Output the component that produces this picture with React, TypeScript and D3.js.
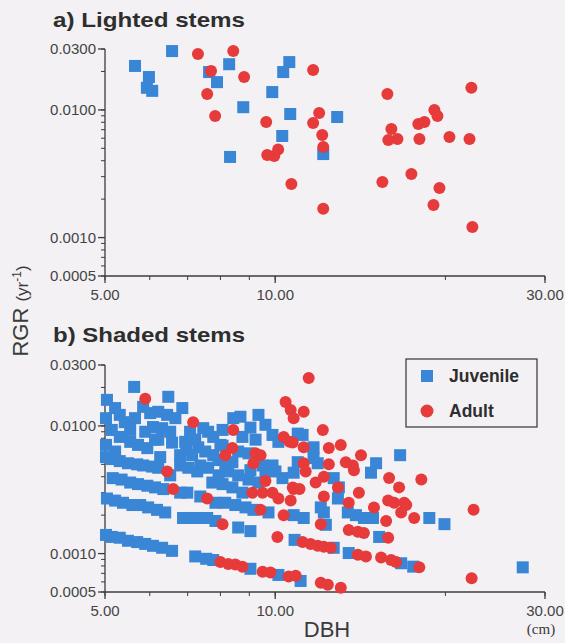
import React from "react";
import * as d3 from "d3";

// ---- data: DBH (cm), RGR (yr^-1) ----
const lightedJuvenile: [number, number][] = [
  [6.57, 0.0289], [5.65, 0.0221], [5.98, 0.0181], [5.93, 0.0149], [6.06, 0.0141],
  [8.29, 0.0228], [7.64, 0.0198], [7.89, 0.0165], [8.78, 0.0105], [9.88, 0.0138],
  [10.33, 0.0198], [10.59, 0.0237], [10.63, 0.00929], [10.29, 0.00625], [8.32, 0.00428],
  [12.87, 0.0088], [12.16, 0.00451],
];

const lightedAdult: [number, number][] = [
  [7.3, 0.0274], [8.43, 0.0289], [7.7, 0.0202], [8.81, 0.0181], [7.58, 0.0133],
  [7.83, 0.00896], [9.64, 0.00804], [10.12, 0.0049], [9.68, 0.00443], [9.96, 0.00435],
  [10.68, 0.00263], [11.67, 0.0205], [15.79, 0.0133], [22.23, 0.0149], [11.96, 0.00946],
  [11.67, 0.0079], [12.11, 0.00636], [12.16, 0.00513], [19.12, 0.00998], [19.36, 0.00896],
  [17.91, 0.00776], [18.36, 0.00804], [16.05, 0.00709], [15.85, 0.00582], [16.45, 0.00592],
  [17.99, 0.00592], [20.33, 0.00614], [22.06, 0.00592], [12.16, 0.00168], [15.47, 0.00273],
  [17.41, 0.00315], [19.52, 0.00245], [19.05, 0.0018], [22.32, 0.00121],
];

const shadedJuvenile: [number, number][] = [
  [5.63, 0.0202], [5.84, 0.0141], [6.47, 0.0169], [5.04, 0.016], [5.21, 0.0138],
  [5.31, 0.0122], [5.42, 0.0107], [6.85, 0.0138], [5.02, 0.0115], [6.01, 0.0126],
  [6.21, 0.0129], [6.44, 0.0122], [6.66, 0.0115], [6.08, 0.0098], [6.31, 0.0096],
  [6.52, 0.009], [7.07, 0.009], [7.22, 0.0078], [5.02, 0.0071], [5.54, 0.0075],
  [5.72, 0.0071], [5.94, 0.0067], [6.57, 0.0074], [8.43, 0.0115], [8.68, 0.0118],
  [9.34, 0.0122], [7.46, 0.0096], [7.61, 0.009], [7.77, 0.0082], [8.75, 0.0082],
  [9.89, 0.0085], [10.13, 0.0075], [7.31, 0.0068], [7.52, 0.0063], [7.77, 0.0059],
  [7.94, 0.0054], [8.6, 0.0063], [8.97, 0.0061], [9.5, 0.0049], [9.89, 0.0049],
  [7.37, 0.0049], [7.61, 0.0047], [8.26, 0.0044], [8.6, 0.0041], [8.97, 0.0038],
  [9.34, 0.0036], [7.74, 0.0036], [8.07, 0.0035], [8.4, 0.0033], [8.75, 0.003],
  [10.01, 0.0044], [10.3, 0.0039], [8.07, 0.007], [8.4, 0.0052], [6.96, 0.0065],
  [7.13, 0.0059], [5.54, 0.0093], [6.13, 0.0078],
  [5.14, 0.0093], [5.31, 0.0082], [5.21, 0.0063], [5.89, 0.009], [5.65, 0.0115],
  [6.26, 0.0057], [6.79, 0.0059], [6.93, 0.0075], [6.21, 0.0078], [8.0, 0.0071],
  [8.16, 0.0049], [7.94, 0.0041], [9.04, 0.0045], [9.61, 0.0044], [9.23, 0.0078],
  [9.61, 0.0102], [9.04, 0.0097], [8.07, 0.0093],
  [5.02, 0.0057], [5.14, 0.0055], [5.31, 0.0053], [5.49, 0.0051], [5.7, 0.005],
  [5.84, 0.0049], [6.06, 0.0048], [6.21, 0.0047], [6.79, 0.0049], [7.02, 0.0047],
  [7.28, 0.0044], [6.52, 0.0041],
  [5.16, 0.0039], [5.35, 0.0038], [5.54, 0.0036], [5.72, 0.0035], [5.94, 0.0034],
  [6.13, 0.0033], [6.34, 0.0032], [6.79, 0.003], [6.99, 0.003], [7.37, 0.0028],
  [7.84, 0.0025], [8.16, 0.0025], [8.5, 0.0024], [8.86, 0.0023], [9.15, 0.0022],
  [9.73, 0.0021], [10.78, 0.002],
  [5.04, 0.0027], [5.21, 0.0026], [5.38, 0.0025], [5.59, 0.0024], [5.77, 0.0024],
  [5.96, 0.0023], [6.18, 0.0022], [6.39, 0.0021], [6.87, 0.0019], [7.07, 0.0019],
  [7.31, 0.0019], [7.58, 0.0019], [7.84, 0.0018], [8.6, 0.0016], [9.04, 0.0015],
  [10.82, 0.00128],
  [5.02, 0.0014], [5.14, 0.00135], [5.31, 0.00133], [5.49, 0.00126], [5.7, 0.00123],
  [5.89, 0.00119], [6.08, 0.00115], [6.31, 0.00111], [6.57, 0.00105], [7.22, 0.00095],
  [7.55, 0.00091], [7.77, 0.00089], [9.04, 0.00076], [10.13, 0.00068], [11.09, 0.00061],
  [10.96, 0.0087], [11.18, 0.0085], [11.69, 0.0068], [10.96, 0.0052], [11.69, 0.0056],
  [11.89, 0.0051], [15.08, 0.0051], [14.77, 0.0043], [10.78, 0.0043], [12.69, 0.0039],
  [12.96, 0.0033], [12.04, 0.0023], [12.19, 0.0021], [12.91, 0.0027], [13.44, 0.0021],
  [13.89, 0.002], [14.35, 0.0019], [14.89, 0.0019], [11.23, 0.0019], [12.29, 0.00168],
  [15.27, 0.00135], [13.49, 0.00101], [12.69, 0.00111], [16.63, 0.0059], [18.73, 0.0019],
  [19.92, 0.0017], [16.7, 0.00084], [17.54, 0.00079], [27.4, 0.00078],
];

const shadedAdult: [number, number][] = [
  [5.89, 0.0163], [7.16, 0.0107], [6.44, 0.0044], [6.6, 0.0032], [8.43, 0.0093],
  [8.4, 0.0067], [8.16, 0.0059], [9.23, 0.0061], [9.42, 0.0059], [9.15, 0.0051],
  [9.61, 0.0037], [10.43, 0.0154], [10.65, 0.0133], [10.78, 0.0115], [10.35, 0.0082],
  [10.6, 0.0075], [9.11, 0.003], [9.5, 0.003], [9.89, 0.003], [10.13, 0.0027],
  [10.65, 0.0026], [10.74, 0.0033], [7.58, 0.0027], [9.42, 0.0022], [10.35, 0.002],
  [8.07, 0.0017], [10.09, 0.00135], [8.0, 0.00086], [8.26, 0.00083], [8.5, 0.00082],
  [8.75, 0.00079], [9.5, 0.00072], [9.81, 0.00071], [10.56, 0.00066], [11.46, 0.0237],
  [11.23, 0.0129], [12.14, 0.0093], [10.74, 0.0074], [11.23, 0.0068], [12.44, 0.0067],
  [13.06, 0.0071], [11.23, 0.0051], [11.32, 0.0044], [12.44, 0.005], [13.33, 0.0052],
  [13.72, 0.0049], [13.78, 0.0045], [14.18, 0.0059], [15.9, 0.0039], [11.79, 0.0036],
  [12.19, 0.004], [12.91, 0.0033], [10.78, 0.0032], [11.04, 0.0032], [12.19, 0.0028],
  [13.49, 0.0025], [14.06, 0.003], [14.95, 0.0023], [15.84, 0.0026], [12.04, 0.0017],
  [13.49, 0.00153], [14.0, 0.00148], [14.35, 0.00145], [15.84, 0.00133], [11.18, 0.00123],
  [11.55, 0.00119], [11.89, 0.00115], [12.19, 0.00113], [12.54, 0.00111], [14.0, 0.00098],
  [14.47, 0.00095], [15.39, 0.00093], [16.03, 0.00089], [10.87, 0.00067], [12.04, 0.00059],
  [12.39, 0.00057], [13.06, 0.00054], [16.56, 0.0033], [18.13, 0.0038], [16.23, 0.0025],
  [16.91, 0.0025], [17.05, 0.0024], [16.7, 0.0021], [17.61, 0.0019], [15.71, 0.0018],
  [16.36, 0.00086], [17.98, 0.00078], [22.25, 0.00064], [22.43, 0.0022],
];

const xTickValues = [5, 10, 30];
const xTickLabels = ["5.00", "10.00", "30.00"];
const yTickValues = [0.03, 0.01, 0.001, 0.0005];
const yTickLabels = ["0.0300", "0.0100", "0.0010", "0.0005"];
const seriesNames = ["Juvenile", "Adult"];

const BLUE = "#3a86d6";
const RED = "#e63a3b";
const AXIS = "#3d3d3d";
const TEXT = "#444";
const SANS = "'Liberation Sans', Arial, Helvetica, sans-serif";

const xScale = d3.scaleLog().domain([5, 30]).range([105, 545]);

interface PanelProps {
  title: string;
  top: number;
  bottom: number;
  titleY: number;
  xLabelY: number;
  juvenile: [number, number][];
  adult: [number, number][];
}

function Panel({ title, top, bottom, titleY, xLabelY, juvenile, adult }: PanelProps) {
  const y = d3.scaleLog().domain([0.0005, 0.03]).range([bottom, top]);
  const x0 = xScale.range()[0];
  const x1 = xScale.range()[1];
  const yMinor = y.ticks();
  const xMinor = xScale.ticks();
  const half = 6;
  return (
    <g>
      <text x={53} y={titleY} fontFamily={SANS} fontWeight="bold" fontSize={21}
        fill="#2e2e2e" textLength={192} lengthAdjust="spacingAndGlyphs">{title}</text>
      {/* axes */}
      <line x1={x0} x2={x0} y1={top} y2={bottom} stroke={AXIS} strokeWidth={1.3} />
      <line x1={x0} x2={x1} y1={bottom} y2={bottom} stroke={AXIS} strokeWidth={1.3} />
      {yMinor.map((v, i) => (
        <line key={"ym" + i} x1={x0 - 4} x2={x0} y1={y(v)} y2={y(v)} stroke={AXIS} strokeWidth={1} />
      ))}
      {yTickValues.map((v, i) => (
        <g key={"yt" + i}>
          <line x1={x0 - 7} x2={x0} y1={y(v)} y2={y(v)} stroke={AXIS} strokeWidth={1.3} />
          <text x={x0 - 9} y={y(v)} dy="0.35em" textAnchor="end" fontFamily={SANS}
            fontSize={15} fill={TEXT}>{yTickLabels[i]}</text>
        </g>
      ))}
      {xMinor.map((v, i) => (
        <line key={"xm" + i} x1={xScale(v)} x2={xScale(v)} y1={bottom} y2={bottom + 4}
          stroke={AXIS} strokeWidth={1} />
      ))}
      {xTickValues.map((v, i) => (
        <g key={"xt" + i}>
          <line x1={xScale(v)} x2={xScale(v)} y1={bottom} y2={bottom + 7} stroke={AXIS} strokeWidth={1.3} />
          <text x={xScale(v)} y={xLabelY} textAnchor="middle" fontFamily={SANS}
            fontSize={15} fill={TEXT}>{xTickLabels[i]}</text>
        </g>
      ))}
      {/* markers */}
      {juvenile.map((d, i) => (
        <rect key={"j" + i} x={xScale(d[0]) - half} y={y(d[1]) - half} width={half * 2}
          height={half * 2} fill={BLUE} />
      ))}
      {adult.map((d, i) => (
        <circle key={"a" + i} cx={xScale(d[0])} cy={y(d[1])} r={6} fill={RED} />
      ))}
    </g>
  );
}

export default function App() {
  return (
    <svg width={565} height={643} viewBox="0 0 565 643"
      style={{ position: "absolute", left: 0, top: 0, display: "block" }}>
      <rect x={0} y={0} width={565} height={643} fill="#f3f1f4" />
      <Panel title="a) Lighted stems" top={49} bottom={276} titleY={27} xLabelY={300}
        juvenile={lightedJuvenile} adult={lightedAdult} />
      <Panel title="b) Shaded stems" top={365} bottom={592} titleY={342} xLabelY={616}
        juvenile={shadedJuvenile} adult={shadedAdult} />

      {/* legend */}
      <rect x={406} y={359} width={131} height={68} fill="none" stroke="#333" strokeWidth={1.2} />
      <rect x={421} y={370} width={12} height={12} fill={BLUE} />
      <circle cx={427} cy={411} r={6.5} fill={RED} />
      <text x={449} y={382} fontFamily={SANS} fontWeight="bold" fontSize={17.5} fill="#2e2e2e">{seriesNames[0]}</text>
      <text x={449} y={417} fontFamily={SANS} fontWeight="bold" fontSize={17.5} fill="#2e2e2e">{seriesNames[1]}</text>

      {/* axis titles */}
      <text transform="translate(28,311) rotate(-90)" textAnchor="middle" fontFamily={SANS} fill="#3a3a3a">
        <tspan fontSize={22}>RGR </tspan>
        <tspan fontSize={17}>(yr</tspan>
        <tspan fontSize={12} dy={-7}>-1</tspan>
        <tspan fontSize={17} dy={7}>)</tspan>
      </text>
      <text x={327} y={637} textAnchor="middle" fontFamily={SANS} fontSize={22} fill="#3a3a3a">DBH</text>
      <text x={541} y={634} textAnchor="middle" fontFamily="'Liberation Serif', 'Times New Roman', serif"
        fontSize={15} fill="#3a3a3a">(cm)</text>
    </svg>
  );
}
